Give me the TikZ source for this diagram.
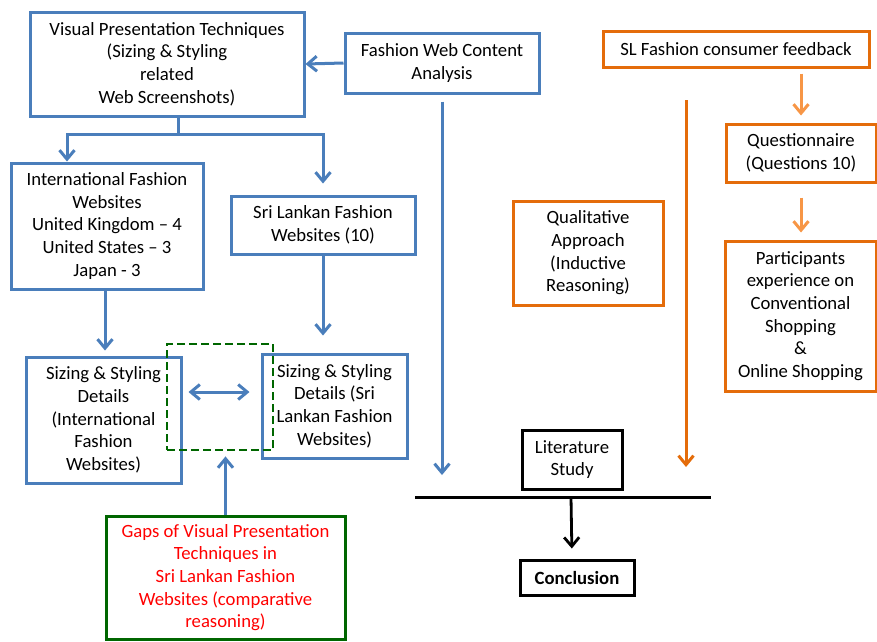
\documentclass[tikz,border=0pt]{standalone}
\usepackage{fontspec}
\setmainfont{Carlito}
\usetikzlibrary{arrows.meta}
\definecolor{boxblue}{RGB}{74,126,187}
\definecolor{boxorange}{RGB}{228,108,10}
\definecolor{lightorange}{RGB}{247,150,70}
\definecolor{gapgreen}{RGB}{0,102,0}

\begin{document}
\begin{tikzpicture}[x=1pt, y=-1pt, font=\fontsize{18.7}{22.7}\selectfont,
  box/.style={draw, line width=3pt, align=center, inner sep=0pt},
  bluebox/.style={box, draw=boxblue},
  orangebox/.style={box, draw=boxorange},
  blackbox/.style={box, draw=black},
  tip/.style={-{Straight Barb[length=9pt, width=15pt]}},
  blueline/.style={tip, draw=boxblue, line width=3pt},
  orangeline/.style={tip, draw=lightorange, line width=3pt}]
\useasboundingbox (0,0) rectangle (877,641);

\node[bluebox, minimum width=274pt, minimum height=104pt] (vpt) at (167,64) {Visual Presentation Techniques\\(Sizing \& Styling\\related\\Web Screenshots)};
\node[bluebox, minimum width=194pt, minimum height=60pt] (fwca) at (442,63) {Fashion Web Content\\Analysis};
\node[bluebox, minimum width=192pt, minimum height=126pt] (intl) at (107,226) {International Fashion\\Websites\\United Kingdom -- 4\\United States -- 3\\Japan - 3};
\node[bluebox, minimum width=184pt, minimum height=58pt] (sri) at (323,225) {Sri Lankan Fashion\\Websites (10)};
\node[bluebox, minimum width=155pt, minimum height=126pt] (sizint) at (103.5,420) {Sizing \& Styling\\Details\\(International\\Fashion\\Websites)};
\node[bluebox, minimum width=145pt, minimum height=104pt] (sizsri) at (334.5,406) {Sizing \& Styling\\Details (Sri\\Lankan Fashion\\Websites)};
\node[draw=gapgreen, line width=2.8pt, dash pattern=on 8pt off 4pt, minimum width=106pt, minimum height=106pt] (gapframe) at (220,397) {};
\node[box, draw=gapgreen, text=red, minimum width=239pt, minimum height=123pt] (gaps) at (225.5,577.5) {Gaps of Visual Presentation\\Techniques in\\Sri Lankan Fashion\\Websites (comparative\\reasoning)};

\node[orangebox, minimum width=266pt, minimum height=36pt] (slfb) at (736,49) {SL Fashion consumer feedback};
\node[orangebox, minimum width=150pt, minimum height=58pt] (quest) at (801,153) {Questionnaire\\(Questions 10)};
\node[orangebox, minimum width=151pt, minimum height=150pt] (part) at (800.5,316) {Participants\\experience on\\Conventional\\Shopping\\\&\\Online Shopping};
\node[orangebox, minimum width=150pt, minimum height=104pt] (qual) at (588,253) {Qualitative\\Approach\\(Inductive\\Reasoning)};

\node[blackbox, minimum width=100pt, minimum height=59pt] (lit) at (572,459.5) {Literature\\Study};
\node[blackbox, minimum width=114pt, minimum height=35pt, font=\fontsize{18.7}{22.7}\selectfont\bfseries] (concl) at (577,577.5) {Conclusion};

\coordinate (split) at (178,134);
\coordinate (fwcaend) at (442,475);
\coordinate (orangetop) at (686,100);
\coordinate (orangeend) at (686,467);
\coordinate (barL) at (415,497);
\coordinate (barR) at (711,497);

\draw[blueline] (fwca.west) -- (vpt.east);
\draw[blueline, -] (vpt.south -| split) -- (split);
\draw[blueline] (split) -| ([xshift=-40pt]intl.north);
\draw[blueline] (split) -| ([yshift=11pt]sri.north);
\draw[blueline, shorten >=5pt] ([xshift=-2pt]intl.south) -- ([xshift=-2pt]intl.south |- sizint.north);
\draw[blueline, shorten >=17pt] (sri.south) -- (sri.south |- sizsri.north);
\draw[blueline, shorten <=7pt] (fwca.south) -- (fwcaend);
\draw[blueline, {Straight Barb[length=9pt, width=15pt]}-{Straight Barb[length=9pt, width=15pt]}, shorten <=6pt, shorten >=11pt] (sizint.east |- 0,392) -- (sizsri.west |- 0,392);
\draw[blueline, shorten >=5pt] (gaps.north) -- (gaps.north |- gapframe.south);

\draw[orangeline, shorten <=5pt, shorten >=7pt] (quest.north |- slfb.south) -- (quest.north);
\draw[orangeline, shorten <=14pt, shorten >=7pt] (quest.south) -- (quest.south |- part.north);
\draw[orangeline, draw=boxorange] (orangetop) -- (orangeend);

\draw[line width=3pt] (barL) -- (barR);
\draw[tip, line width=2.8pt, shorten >=10pt] (571,497) -- ([xshift=-5pt]concl.north);
\end{tikzpicture}
\end{document}
